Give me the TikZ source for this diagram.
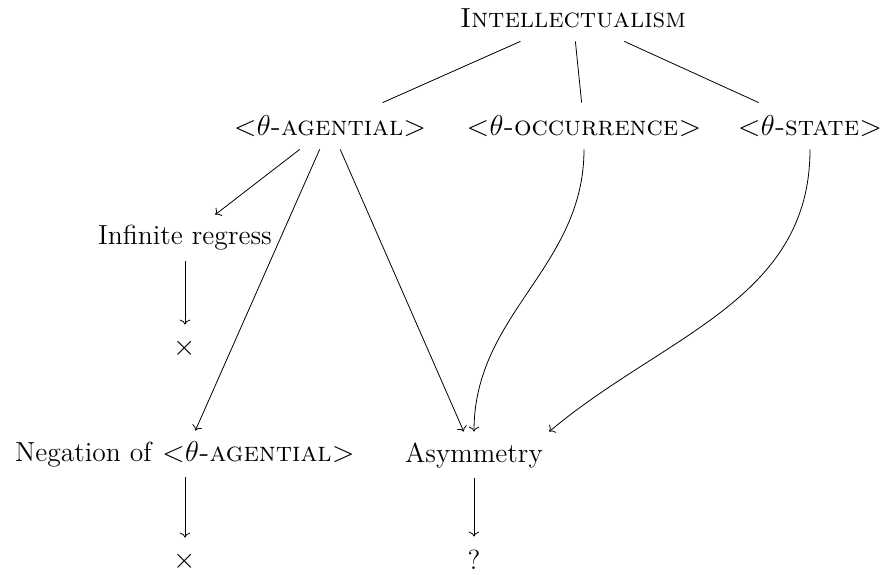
\documentclass[tikz,border=0pt]{standalone}
\usepackage{amsmath}
\usepackage{tikz}
\usetikzlibrary{arrows.meta, positioning}
\tikzset{
	term/.style  ={inner sep=3pt, minimum height=23pt, align=center},
	branch/.style={thin},
	impl/.style  ={->, thin},
}
\begin{document}
\begin{tikzpicture}[x=0.5pt, y=0.5pt, font=\fontsize{13.8}{16}\selectfont]
	\useasboundingbox (0,0) rectangle (883,-574);
	% top of the tree
	\node[term] (intel) at (573,-18) {\textsc{Intellectualism}};
	\node[term] (agent) at (330,-126) {\textsc{<$\theta$-agential>}};
	\node[term] (occur) at (584,-126) {\textsc{<$\theta$-occurrence>}};
	\node[term] (state) at (810,-126) {\textsc{<$\theta$-state>}};
	% consequences
	\node[term] (regress) at (185,-238) {Infinite regress};
	\node[term] (crossA) at (185,-348) {$\times$};
	\node[term] (negat) at (185,-454) {Negation of \textsc{<$\theta$-agential>}};
	\node[term] (asym) at (474,-455) {Asymmetry};
	\node[term] (crossB) at (185,-561) {$\times$};
	\node[term] (query) at (474,-560) {?};
	\draw[branch] (intel) -- (agent);
	\draw[branch] (intel) -- (occur);
	\draw[branch] (intel) -- (state);
	\draw[impl] (agent) -- (regress);
	\draw[impl] (agent) -- (negat);
	\draw[impl] (agent) -- (asym);
	\draw[impl] (occur.south) to[out=-90, in=90] (asym.north);
	\draw[impl] (state.south) to[out=-90, in=40] (asym.north east);
	\draw[impl] (regress) -- (crossA);
	\draw[impl] (negat) -- (crossB);
	\draw[impl] (asym) -- (query);
\end{tikzpicture}
\end{document}
